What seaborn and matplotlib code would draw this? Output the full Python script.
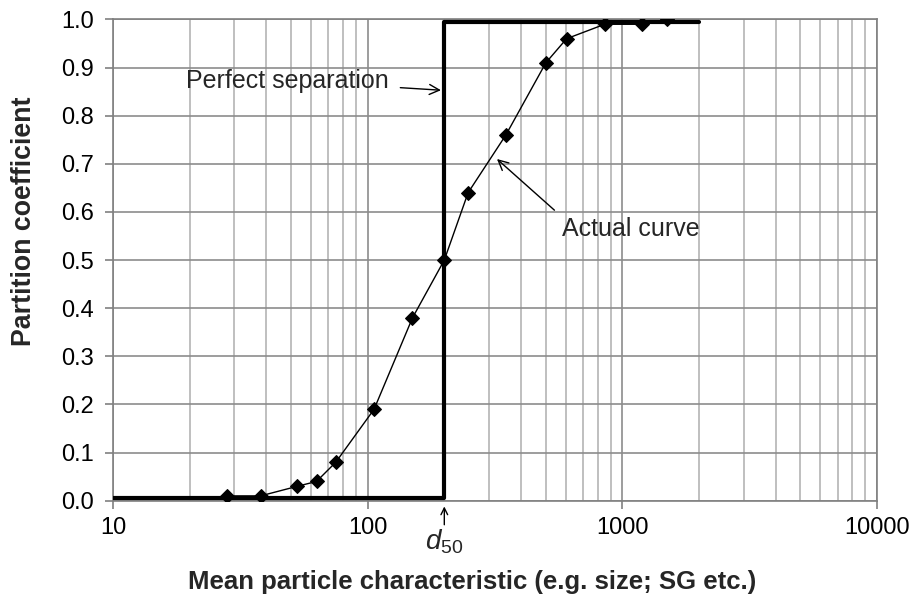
import matplotlib
matplotlib.use("Agg")
import matplotlib.pyplot as plt
import seaborn as sns
import numpy as np
import pandas as pd
from matplotlib.ticker import LogLocator, FixedLocator, NullFormatter, FuncFormatter

# ---- data ----
size = [28, 38, 53, 63, 75, 106, 150, 200, 248, 349, 501, 604, 852, 1197, 1493]
partition = [0.01, 0.01, 0.03, 0.04, 0.08, 0.19, 0.38, 0.50, 0.64, 0.76, 0.91, 0.96, 0.99, 0.99, 1.00]

perfect_x = [10, 200, 200, 2000]
perfect_y = [0.005, 0.005, 0.995, 0.995]

d50 = 200
y_ticks = [0.0, 0.1, 0.2, 0.3, 0.4, 0.5, 0.6, 0.7, 0.8, 0.9, 1.0]
x_ticks = [10, 100, 1000, 10000]

sns.set_theme(style="white")
plt.rcParams['font.family'] = ['Liberation Sans', 'DejaVu Sans']
plt.rcParams['mathtext.fontset'] = 'custom'
plt.rcParams['mathtext.rm'] = 'Liberation Sans'
plt.rcParams['mathtext.it'] = 'Liberation Sans:italic'

fig = plt.figure(figsize=(9.14, 6.01), dpi=100)
ax = fig.add_axes([0.1236, 0.1669, 0.9595 - 0.1236, 0.9676 - 0.1669])

ax.set_xscale('log')
ax.set_xlim(10, 10000)
ax.set_ylim(0, 1.0)

# grid
ax.xaxis.set_major_locator(FixedLocator(x_ticks))
ax.xaxis.set_minor_locator(LogLocator(base=10, subs=np.arange(2, 10)))
ax.xaxis.set_minor_formatter(NullFormatter())
ax.xaxis.set_major_formatter(FuncFormatter(lambda v, p: f"{int(v)}"))
ax.yaxis.set_major_locator(FixedLocator(y_ticks))
ax.yaxis.set_major_formatter(FuncFormatter(lambda v, p: f"{v:.1f}"))
ax.grid(True, which='major', axis='both', color='#8c8c8c', linewidth=1.2)
ax.grid(True, which='minor', axis='x', color='#b4b4b4', linewidth=1.2)
ax.set_axisbelow(True)

for s in ax.spines.values():
    s.set_color('#808080')
    s.set_linewidth(1.2)

ax.tick_params(axis='both', which='major', labelsize=17, colors='#808080',
               labelcolor='black', length=6, width=1.2, direction='out',
               left=True, bottom=True)
ax.tick_params(axis='x', which='minor', length=0)
ax.tick_params(axis='x', which='major', pad=6)
ax.tick_params(axis='y', which='major', pad=8)

# perfect separation
df_p = pd.DataFrame({'x': perfect_x, 'y': perfect_y})
sns.lineplot(data=df_p, x='x', y='y', ax=ax, color='black', linewidth=3,
             sort=False, estimator=None, zorder=3)

# actual curve
df = pd.DataFrame({'size': size, 'partition': partition})
sns.lineplot(data=df, x='size', y='partition', ax=ax, color='black', linewidth=1,
             marker='D', markersize=7, markeredgecolor='black',
             markerfacecolor='black', estimator=None, zorder=4)

ax.set_xlabel("Mean particle characteristic (e.g. size; SG etc.)",
              fontsize=18.5, fontweight='bold')
ax.xaxis.set_label_coords(0.47, -0.145)
ax.set_ylabel("Partition coefficient", fontsize=19.3, fontweight='bold')
ax.yaxis.set_label_coords(-0.1, 0.581)

# annotations
ax.annotate("Perfect separation", xy=(194, 0.853), xytext=(121, 0.873),
            fontsize=18, ha='right', va='center',
            arrowprops=dict(arrowstyle='->', color='black', lw=1,
                            shrinkA=6, shrinkB=0))
ax.annotate("Actual curve", xy=(322, 0.71), xytext=(579, 0.565),
            fontsize=18, ha='left', va='center',
            arrowprops=dict(arrowstyle='->', color='black', lw=1,
                            shrinkA=4, shrinkB=0, relpos=(0, 1)))
ax.annotate("", xy=(d50, -0.012), xycoords=('data', 'data'),
            xytext=(d50, -0.05),
            arrowprops=dict(arrowstyle='->', color='black', lw=1,
                            shrinkA=0, shrinkB=0), annotation_clip=False)
ax.text(d50, -0.085, r"$d_{50}$", fontsize=20, ha='center', va='center',
        transform=ax.transData, clip_on=False)

fig.savefig("out.png", dpi=100)
